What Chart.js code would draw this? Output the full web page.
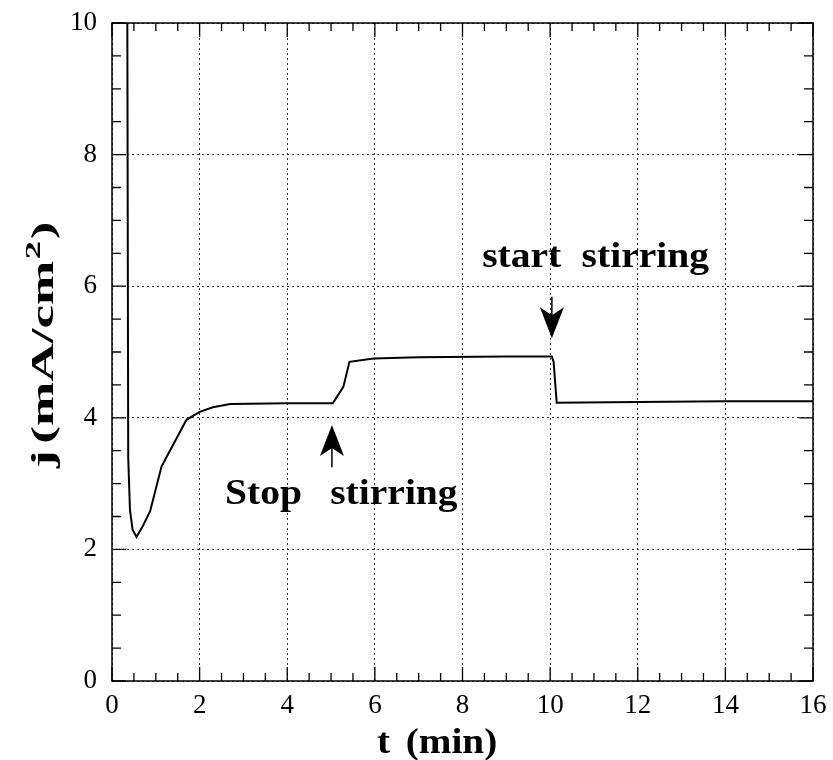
<!DOCTYPE html>
<html>
<head>
<meta charset="utf-8">
<script src="https://cdn.jsdelivr.net/npm/chart.js@4"></script>
<style>
  html, body { margin: 0; padding: 0; background: #fff; }
  #wrap { width: 833px; height: 760px; }
</style>
</head>
<body>
<div id="wrap"><canvas id="grafico" width="833" height="760"></canvas></div>
<script>
// time (min) and current density j (mA/cm2)
const tMin = [0.35, 0.37, 0.41, 0.47, 0.56, 0.7, 0.87, 1.13, 1.45, 1.70, 2.0, 2.3, 2.7, 4.0, 5.04, 5.28, 5.42, 5.97, 7.0, 9.0, 10.04, 10.08, 10.15, 12.0, 14.0, 16.0];
const jVal = [10.0, 3.4, 2.6, 2.3, 2.19, 2.35, 2.58, 3.26, 3.66, 3.97, 4.09, 4.16, 4.21, 4.22, 4.22, 4.47, 4.85, 4.90, 4.92, 4.93, 4.93, 4.85, 4.23, 4.24, 4.25, 4.25];
const xTicks = [0, 2, 4, 6, 8, 10, 12, 14, 16];
const yTicks = [0, 2, 4, 6, 8, 10];
const notes = [
  { words: ['start', 'stirring'], t: 8.45, j: 6.47, gap: 18 },
  { words: ['Stop', 'stirring'], t: 2.58, j: 2.87, gap: 25 }
];
const arrows = [
  { t: 10.04, from: 5.84, to: 5.21 },  // pointing down
  { t: 5.02, from: 3.25, to: 3.89 }    // pointing up
];

const serif = '"Liberation Serif", "Times New Roman", serif';

// draws words left to right, slightly widened like the scanned type
function drawWords(ctx, words, x, y, size, gap, stretch) {
  ctx.save();
  ctx.translate(x, y);
  ctx.scale(stretch, 1);
  ctx.font = 'bold ' + size + 'px ' + serif;
  ctx.textAlign = 'left';
  ctx.textBaseline = 'alphabetic';
  let cx = 0;
  words.forEach(w => {
    ctx.fillText(w, cx, 0);
    cx += ctx.measureText(w).width + gap;
  });
  ctx.restore();
}

const extras = {
  id: 'extras',
  afterDraw(chart) {
    const ctx = chart.ctx;
    const a = chart.chartArea;
    const xs = chart.scales.x, ys = chart.scales.y;
    ctx.save();
    ctx.strokeStyle = '#000';
    ctx.fillStyle = '#000';
    ctx.lineWidth = 1.5;
    ctx.strokeRect(a.left, a.top, a.right - a.left, a.bottom - a.top);

    // inward ticks on all four sides
    ctx.lineWidth = 1.3;
    ctx.beginPath();
    for (let v = 0; v <= 16; v += 0.5) {
      const len = v % 2 === 0 ? 14 : 8;
      const x = xs.getPixelForValue(v);
      ctx.moveTo(x, a.bottom); ctx.lineTo(x, a.bottom - len);
      ctx.moveTo(x, a.top); ctx.lineTo(x, a.top + len);
    }
    for (let v = 0; v <= 10; v += 0.5) {
      const len = v % 2 === 0 ? 14 : 9;
      const y = ys.getPixelForValue(v);
      ctx.moveTo(a.left, y); ctx.lineTo(a.left + len, y);
      ctx.moveTo(a.right, y); ctx.lineTo(a.right - len, y);
    }
    ctx.stroke();

    // annotation text (anchored at left edge, middle of caps)
    notes.forEach(n => {
      drawWords(ctx, n.words, xs.getPixelForValue(n.t), ys.getPixelForValue(n.j) + 12, 35, n.gap, 1.13);
    });

    // arrows
    arrows.forEach(ar => {
      const x = xs.getPixelForValue(ar.t);
      const y0 = ys.getPixelForValue(ar.from);
      const y1 = ys.getPixelForValue(ar.to);
      const dir = y1 > y0 ? 1 : -1;
      ctx.lineWidth = 1.5;
      ctx.beginPath();
      ctx.moveTo(x, y0); ctx.lineTo(x, y1 - dir * 20);
      ctx.stroke();
      ctx.beginPath();
      ctx.moveTo(x, y1);
      ctx.lineTo(x - 12, y1 - dir * 31);
      ctx.lineTo(x, y1 - dir * 23);
      ctx.lineTo(x + 12, y1 - dir * 31);
      ctx.closePath();
      ctx.fill();
    });

    // axis titles
    drawWords(ctx, ['t', '(min)'], 377, 753, 35, 14, 1.12);

    ctx.save();
    ctx.translate(53, 468);
    ctx.rotate(-Math.PI / 2);
    ctx.scale(1.66, 1);
    ctx.textAlign = 'left';
    ctx.textBaseline = 'alphabetic';
    ctx.font = 'bold 32px ' + serif;
    let cx = 0;
    ctx.fillText('j', cx, 0);
    cx += ctx.measureText('j').width + 4;
    ctx.fillText('(mA/cm', cx, 0);
    cx += ctx.measureText('(mA/cm').width + 1;
    ctx.font = 'bold 22px ' + serif;
    ctx.fillText('2', cx, -13);
    cx += ctx.measureText('2').width + 1;
    ctx.font = 'bold 32px ' + serif;
    ctx.fillText(')', cx, 0);
    ctx.restore();

    ctx.restore();
  }
};

new Chart(document.getElementById('grafico'), {
  type: 'scatter',
  data: {
    datasets: [{
      data: tMin.map((t, i) => ({ x: t, y: jVal[i] })),
      showLine: true,
      borderColor: '#000',
      borderWidth: 2,
      pointRadius: 0,
      tension: 0
    }]
  },
  options: {
    responsive: false,
    animation: false,
    layout: { padding: { top: 23, right: 20, left: 0, bottom: 0 } },
    plugins: { legend: { display: false }, tooltip: { enabled: false } },
    scales: {
      x: {
        type: 'linear', min: 0, max: 16,
        afterBuildTicks: s => { s.ticks = xTicks.map(v => ({ value: v })); },
        afterFit: s => { s.height = 79; s.paddingLeft = 0; s.paddingRight = 0; },
        grid: { color: '#333', lineWidth: 1, drawTicks: false },
        border: { display: false, dash: [2, 3] },
        ticks: { color: '#000', padding: 9, font: { family: serif, size: 27 } },
        title: { display: false }
      },
      y: {
        type: 'linear', min: 0, max: 10,
        afterBuildTicks: s => { s.ticks = yTicks.map(v => ({ value: v })); },
        afterFit: s => { s.width = 112; s.paddingTop = 0; s.paddingBottom = 0; },
        grid: { color: '#333', lineWidth: 1, drawTicks: false },
        border: { display: false, dash: [2, 3] },
        ticks: { color: '#000', padding: 15, font: { family: serif, size: 27 } },
        title: { display: false }
      }
    }
  },
  plugins: [extras]
});
</script>
</body>
</html>
